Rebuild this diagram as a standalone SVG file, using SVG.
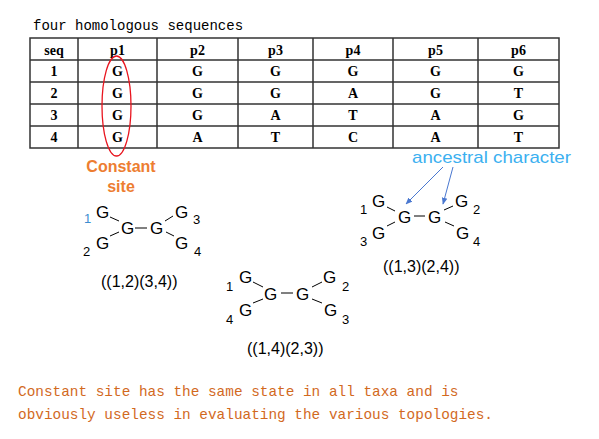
<svg xmlns="http://www.w3.org/2000/svg" width="599" height="439" viewBox="0 0 599 439">
<style>
.title{font-family:"Liberation Mono",monospace;font-size:14px;fill:#000}
.cell{font-family:"Liberation Serif",serif;font-weight:bold;font-size:14px;fill:#000;text-anchor:middle}
.grid{stroke:#333;stroke-width:1.5;fill:none}
.g{font-family:"Liberation Sans",Arial,sans-serif;font-size:17px;fill:#000}
.lab{font-family:"Liberation Sans",Arial,sans-serif;font-size:13px;fill:#000}
.topo{font-family:"Liberation Sans",Arial,sans-serif;font-size:16px;fill:#000}
.br{stroke:#000;stroke-width:1;fill:none}
.note{font-family:"Liberation Mono",monospace;font-size:14.4px;fill:#D2691E}
.const{font-family:"Liberation Sans",Arial,sans-serif;font-weight:bold;font-size:16px;fill:#ED7D31;text-anchor:middle}
.anc{font-family:"Liberation Sans",Arial,sans-serif;font-size:17px;fill:#3BB0F0}
.arr{stroke:#4A78D0;stroke-width:1;fill:none;marker-end:url(#ah)}
</style>
<defs>
<marker id="ah" viewBox="0 0 10 10" refX="9" refY="5" markerWidth="7" markerHeight="7" orient="auto" markerUnits="userSpaceOnUse">
<path d="M0,1 L10,5 L0,9 z" fill="#4A78D0"/>
</marker>
</defs>
<rect width="599" height="439" fill="#fff"/>
<g id="title"><text class="title" x="33" y="30">four homologous sequences</text></g>
<g id="table">
<rect class="grid" x="30" y="38" width="529" height="110"/>
<path class="grid" d="M30,60H559M30,82H559M30,104H559M30,126H559M78,38V148M157,38V148M238,38V148M313,38V148M393,38V148M478,38V148"/>
<g>
<text class="cell" x="54" y="55">seq</text>
<text class="cell" x="117.5" y="55">p1</text>
<text class="cell" x="197.5" y="55">p2</text>
<text class="cell" x="275.5" y="55">p3</text>
<text class="cell" x="353" y="55">p4</text>
<text class="cell" x="435.5" y="55">p5</text>
<text class="cell" x="518.5" y="55">p6</text>
</g>
<g>
<text class="cell" x="54" y="76">1</text><text class="cell" x="117.5" y="76">G</text><text class="cell" x="197.5" y="76">G</text><text class="cell" x="275.5" y="76">G</text><text class="cell" x="353" y="76">G</text><text class="cell" x="435.5" y="76">G</text><text class="cell" x="518.5" y="76">G</text>
<text class="cell" x="54" y="98">2</text><text class="cell" x="117.5" y="98">G</text><text class="cell" x="197.5" y="98">G</text><text class="cell" x="275.5" y="98">G</text><text class="cell" x="353" y="98">A</text><text class="cell" x="435.5" y="98">G</text><text class="cell" x="518.5" y="98">T</text>
<text class="cell" x="54" y="120">3</text><text class="cell" x="117.5" y="120">G</text><text class="cell" x="197.5" y="120">G</text><text class="cell" x="275.5" y="120">A</text><text class="cell" x="353" y="120">T</text><text class="cell" x="435.5" y="120">A</text><text class="cell" x="518.5" y="120">G</text>
<text class="cell" x="54" y="142">4</text><text class="cell" x="117.5" y="142">G</text><text class="cell" x="197.5" y="142">A</text><text class="cell" x="275.5" y="142">T</text><text class="cell" x="353" y="142">C</text><text class="cell" x="435.5" y="142">A</text><text class="cell" x="518.5" y="142">T</text>
</g>
</g>
<g id="constant-site">
<ellipse cx="116.5" cy="106" rx="14.5" ry="50" fill="none" stroke="#E8141E" stroke-width="1.3"/>
<text class="const" x="121" y="172">Constant</text>
<text class="const" x="121" y="192">site</text>
</g>
<g id="tree-12-34">
<text class="g" x="96" y="218">G</text>
<text class="g" x="96" y="249">G</text>
<text class="g" x="121" y="234">G</text>
<text class="g" x="150" y="234">G</text>
<text class="g" x="175" y="218">G</text>
<text class="g" x="175" y="249">G</text>
<text class="lab" x="84" y="223" style="fill:#3C8DD0">1</text>
<text class="lab" x="83" y="256">2</text>
<text class="lab" x="193" y="224">3</text>
<text class="lab" x="194" y="256">4</text>
<path class="br" d="M110,217L119,221M110,236L119,232M135,228H147M165,221L173,216M166,232L174,236"/>
<text class="topo" x="101" y="287">((1,2)(3,4))</text>
</g>
<g id="tree-14-23">
<text class="g" x="239" y="283">G</text>
<text class="g" x="239" y="316">G</text>
<text class="g" x="264" y="300">G</text>
<text class="g" x="296" y="300">G</text>
<text class="g" x="323" y="283">G</text>
<text class="g" x="324" y="316">G</text>
<text class="lab" x="226" y="291">1</text>
<text class="lab" x="226" y="324">4</text>
<text class="lab" x="342" y="291">2</text>
<text class="lab" x="342" y="324">3</text>
<path class="br" d="M253,282L263,287M253,303L263,299M281,293H293M312,287L322,282M312,299L322,303"/>
<text class="topo" x="247" y="354">((1,4)(2,3))</text>
</g>
<g id="tree-13-24">
<text class="g" x="372" y="207">G</text>
<text class="g" x="372" y="239">G</text>
<text class="g" x="398" y="223">G</text>
<text class="g" x="428" y="223">G</text>
<text class="g" x="455" y="207">G</text>
<text class="g" x="456" y="239">G</text>
<text class="lab" x="360" y="214">1</text>
<text class="lab" x="360" y="246">3</text>
<text class="lab" x="473" y="214">2</text>
<text class="lab" x="473" y="246">4</text>
<path class="br" d="M387,207L395,211M387,226L395,222M414,216H425M444,210L453,206M445,222L454,226"/>
<text class="topo" x="383" y="272">((1,3)(2,4))</text>
</g>
<g id="ancestral">
<text class="anc" x="412" y="163" textLength="159" lengthAdjust="spacingAndGlyphs">ancestral character</text>
</g>
<g id="connectors">
<path class="arr" d="M443,167L406,204"/>
<path class="arr" d="M453,167L443,204"/>
</g>
<g id="note">
<text class="note" x="18" y="396">Constant site has the same state in all taxa and is</text>
<text class="note" x="18" y="419">obviously useless in evaluating the various topologies.</text>
</g>
</svg>
